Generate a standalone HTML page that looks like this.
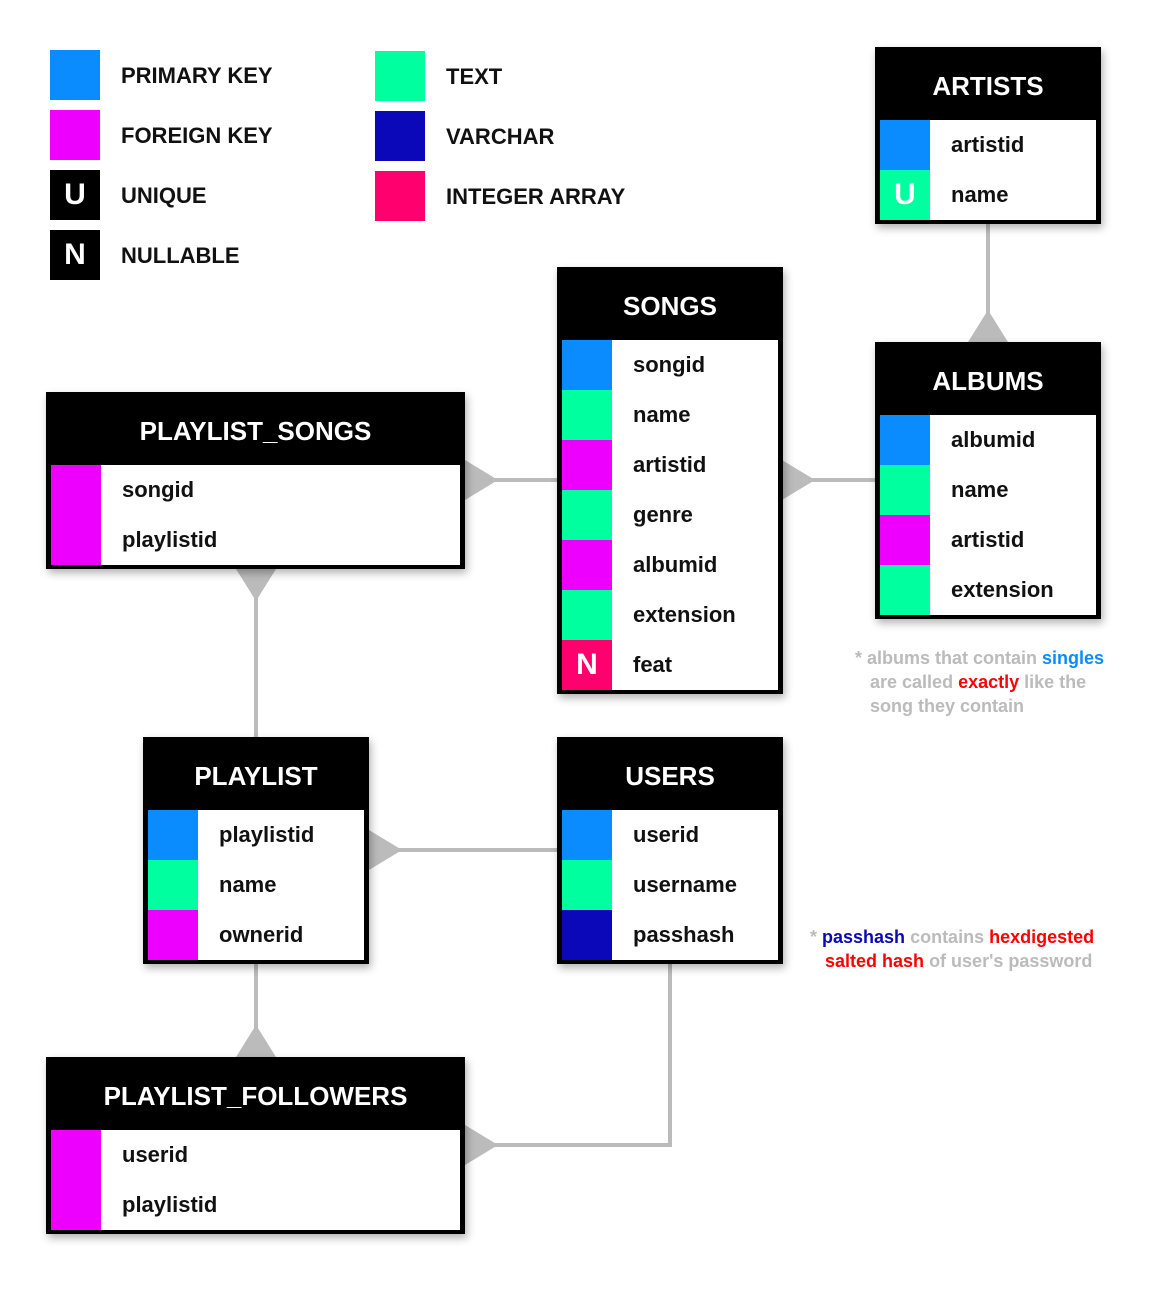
<!DOCTYPE html>
<html><head><meta charset="utf-8"><style>
body{margin:0;width:1150px;height:1290px;background:#fff;position:relative;font-family:"Liberation Sans",sans-serif;overflow:hidden}
.a{position:absolute}
.sq{position:absolute;width:50px;height:50px;color:#fff;font-weight:bold;font-size:30px;text-align:center;line-height:50px}
.lt{position:absolute;font-size:22px;font-weight:600;color:#111;line-height:50px}
.t{position:absolute;background:#000;box-shadow:2px 4px 8px rgba(0,0,0,.3)}
.t .h{height:73px;color:#fff;font-weight:bold;font-size:26px;text-align:center;line-height:78px}
.t .r{position:relative;height:50px;margin:0 5px;background:#fff}
.t .r .c{position:absolute;left:0;top:0;width:50px;height:50px;color:#fff;font-weight:bold;font-size:30px;text-align:center;line-height:50px}
.t .r span{position:absolute;left:71px;top:0;line-height:50px;font-size:22px;font-weight:bold;color:#111}
.note{position:absolute;font-size:18px;font-weight:bold;color:#bbb;line-height:24px}
</style></head><body>
<div class="sq" style="left:50px;top:50px;background:#0a8cff"></div><div class="lt" style="left:121px;top:51px">PRIMARY KEY</div>
<div class="sq" style="left:50px;top:110px;background:#ee00ff"></div><div class="lt" style="left:121px;top:111px">FOREIGN KEY</div>
<div class="sq" style="left:50px;top:170px;background:#000">U</div><div class="lt" style="left:121px;top:171px">UNIQUE</div>
<div class="sq" style="left:50px;top:230px;background:#000">N</div><div class="lt" style="left:121px;top:231px">NULLABLE</div>
<div class="sq" style="left:375px;top:51px;background:#00ff9f"></div><div class="lt" style="left:446px;top:52px">TEXT</div>
<div class="sq" style="left:375px;top:111px;background:#0a08b8"></div><div class="lt" style="left:446px;top:112px">VARCHAR</div>
<div class="sq" style="left:375px;top:171px;background:#ff006e"></div><div class="lt" style="left:446px;top:172px">INTEGER ARRAY</div>

<svg class="a" style="left:0;top:0" width="1150" height="1290">
<g stroke="#bbb" stroke-width="4" fill="none">
<path d="M988 224V342"/><path d="M465 480H557"/><path d="M782 480H875"/>
<path d="M256 569V737"/><path d="M369 850H557"/><path d="M256 964V1057"/>
<path d="M670 964V1145H465"/></g>
<g fill="#bbb">
<path d="M968 342L988 310L1008 342Z"/><path d="M465 460L498 480L465 500Z"/><path d="M782 460L815 480L782 500Z"/>
<path d="M236 569L256 601L276 569Z"/><path d="M369 830L402 850L369 870Z"/><path d="M236 1057L256 1025L276 1057Z"/>
<path d="M465 1125L498 1145L465 1165Z"/></g>
</svg>

<div class="t" style="left:875px;top:47px;width:226px;height:177px"><div class="h">ARTISTS</div>
<div class="r"><div class="c" style="background:#0a8cff"></div><span>artistid</span></div>
<div class="r"><div class="c" style="background:#00ff9f">U</div><span>name</span></div></div>

<div class="t" style="left:557px;top:267px;width:226px;height:427px"><div class="h">SONGS</div>
<div class="r"><div class="c" style="background:#0a8cff"></div><span>songid</span></div>
<div class="r"><div class="c" style="background:#00ff9f"></div><span>name</span></div>
<div class="r"><div class="c" style="background:#ee00ff"></div><span>artistid</span></div>
<div class="r"><div class="c" style="background:#00ff9f"></div><span>genre</span></div>
<div class="r"><div class="c" style="background:#ee00ff"></div><span>albumid</span></div>
<div class="r"><div class="c" style="background:#00ff9f"></div><span>extension</span></div>
<div class="r"><div class="c" style="background:#ff006e">N</div><span>feat</span></div></div>

<div class="t" style="left:875px;top:342px;width:226px;height:277px"><div class="h">ALBUMS</div>
<div class="r"><div class="c" style="background:#0a8cff"></div><span>albumid</span></div>
<div class="r"><div class="c" style="background:#00ff9f"></div><span>name</span></div>
<div class="r"><div class="c" style="background:#ee00ff"></div><span>artistid</span></div>
<div class="r"><div class="c" style="background:#00ff9f"></div><span>extension</span></div></div>

<div class="t" style="left:46px;top:392px;width:419px;height:177px"><div class="h">PLAYLIST_SONGS</div>
<div class="r"><div class="c" style="background:#ee00ff"></div><span>songid</span></div>
<div class="r"><div class="c" style="background:#ee00ff"></div><span>playlistid</span></div></div>

<div class="t" style="left:143px;top:737px;width:226px;height:227px"><div class="h">PLAYLIST</div>
<div class="r"><div class="c" style="background:#0a8cff"></div><span>playlistid</span></div>
<div class="r"><div class="c" style="background:#00ff9f"></div><span>name</span></div>
<div class="r"><div class="c" style="background:#ee00ff"></div><span>ownerid</span></div></div>

<div class="t" style="left:557px;top:737px;width:226px;height:227px"><div class="h">USERS</div>
<div class="r"><div class="c" style="background:#0a8cff"></div><span>userid</span></div>
<div class="r"><div class="c" style="background:#00ff9f"></div><span>username</span></div>
<div class="r"><div class="c" style="background:#0a08b8"></div><span>passhash</span></div></div>

<div class="t" style="left:46px;top:1057px;width:419px;height:177px"><div class="h">PLAYLIST_FOLLOWERS</div>
<div class="r"><div class="c" style="background:#ee00ff"></div><span>userid</span></div>
<div class="r"><div class="c" style="background:#ee00ff"></div><span>playlistid</span></div></div>

<div class="note" style="left:855px;top:646px">* albums that contain <span style="color:#0a8cff">singles</span><br>&nbsp;&nbsp; are called <span style="color:#f00">exactly</span> like the<br>&nbsp;&nbsp; song they contain</div>
<div class="note" style="left:810px;top:925px">* <span style="color:#0a08b8">passhash</span> contains <span style="color:#f00">hexdigested</span><br>&nbsp;&nbsp; <span style="color:#f00">salted hash</span> of user's password</div>
</body></html>
